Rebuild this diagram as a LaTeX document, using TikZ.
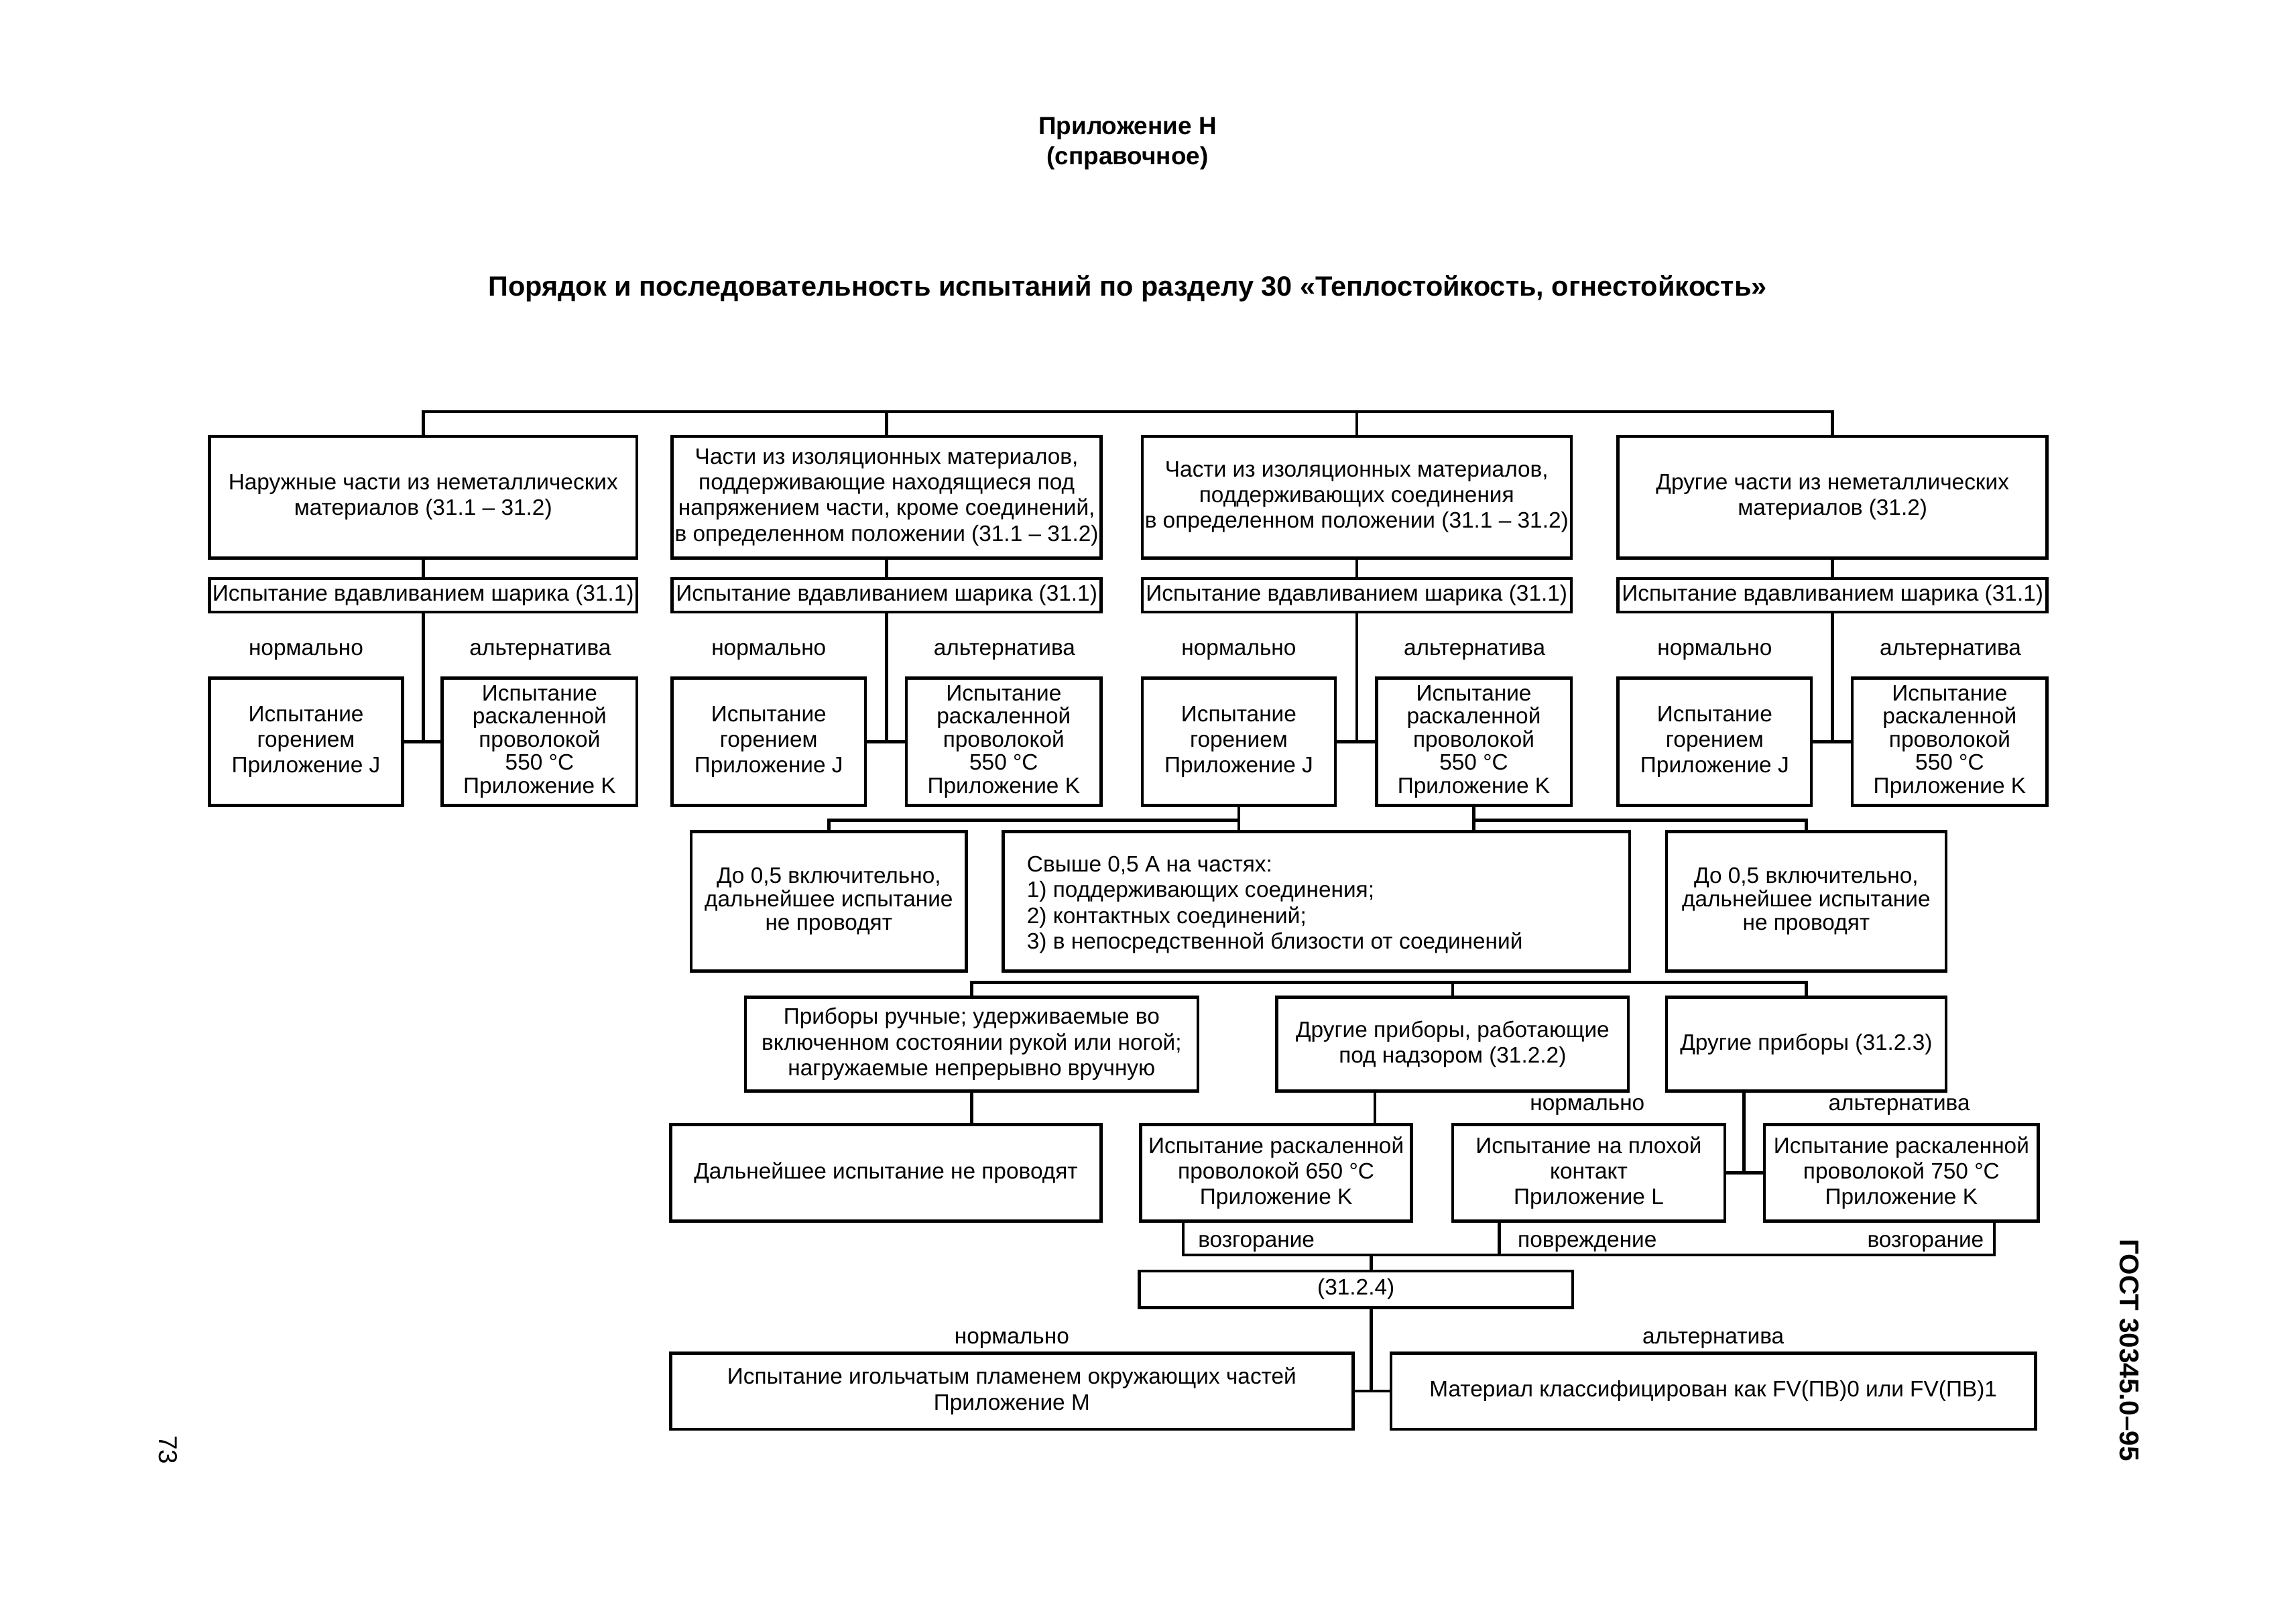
\documentclass[tikz,border=0pt]{standalone}
\usepackage{fontspec}
\setmainfont{Liberation Sans}
\newlength\upx
\setlength\upx{0.2184mm}
\tikzset{
  box/.style={draw, line width=1.3pt, align=center, inner sep=0pt, font=\fontsize{9.5}{10.9}\selectfont},
  tight/.style={font=\fontsize{9.5}{9.8}\selectfont},
  mid/.style={font=\fontsize{9.5}{10}\selectfont},
  lbl/.style={inner sep=0pt, font=\fontsize{9.5}{10.9}\selectfont},
  conn/.style={line width=1.3pt},
  hdr/.style={inner sep=0pt, font=\fontsize{10.5}{13}\selectfont\bfseries, align=center}
}
\newcommand\mybox[7][]{\node[box,#1, minimum width={(#5-#3)*\upx}, minimum height={(#6-#4)*\upx}] (#2) at ({(#3+#5)/2},{(#4+#6)/2}) {#7};}
\begin{document}
\begin{tikzpicture}[x=\upx, y=-\upx]
\useasboundingbox (0,0) rectangle (1568,1108);
% headers
\node[hdr] (h1) at (770,98) {Приложение Н\\(справочное)};
\node[hdr, font=\fontsize{11.8}{14}\selectfont\bfseries] (h2) at (770,197) {Порядок и последовательность испытаний по разделу 30 «Теплостойкость, огнестойкость»};
\node[hdr, font=\fontsize{11.5}{13}\selectfont\bfseries, rotate=-90] (gost) at (1454,922) {ГОСТ 30345.0–95};
\node[lbl, font=\fontsize{11}{13}\selectfont, rotate=-90] (pg) at (115,990) {73};
% row 1
\mybox{B1}{143}{298}{435}{381}{Наружные части из неметаллических\\материалов (31.1 – 31.2)}
\mybox{B2}{459}{298}{752}{381}{Части из изоляционных материалов,\\поддерживающие находящиеся под\\напряжением части, кроме соединений,\\в определенном положении (31.1 – 31.2)}
\mybox{B3}{780}{298}{1073}{381}{Части из изоляционных материалов,\\поддерживающих соединения\\в определенном положении (31.1 – 31.2)}
\mybox{B4}{1105}{298}{1398}{381}{Другие части из неметаллических\\материалов (31.2)}
% row 2
\mybox{T1}{143}{395}{435}{418}{Испытание вдавливанием шарика (31.1)}
\mybox{T2}{459}{395}{752}{418}{Испытание вдавливанием шарика (31.1)}
\mybox{T3}{780}{395}{1073}{418}{Испытание вдавливанием шарика (31.1)}
\mybox{T4}{1105}{395}{1398}{418}{Испытание вдавливанием шарика (31.1)}
% row 3
\mybox{J1}{143}{463}{275}{550}{Испытание\\горением\\Приложение J}
\mybox[tight]{K1}{302}{463}{435}{550}{Испытание\\раскаленной\\проволокой\\550 °C\\Приложение K}
\mybox{J2}{459}{463}{591}{550}{Испытание\\горением\\Приложение J}
\mybox[tight]{K2}{619}{463}{752}{550}{Испытание\\раскаленной\\проволокой\\550 °C\\Приложение K}
\mybox{J3}{780}{463}{912}{550}{Испытание\\горением\\Приложение J}
\mybox[tight]{K3}{940}{463}{1073}{550}{Испытание\\раскаленной\\проволокой\\550 °C\\Приложение K}
\mybox{J4}{1105}{463}{1237}{550}{Испытание\\горением\\Приложение J}
\mybox[tight]{K4}{1265}{463}{1398}{550}{Испытание\\раскаленной\\проволокой\\550 °C\\Приложение K}
% labels row 3
\node[lbl] (n1) at (209,445) {нормально};
\node[lbl] (a1) at (369,445) {альтернатива};
\node[lbl] (n2) at (525,445) {нормально};
\node[lbl] (a2) at (686,445) {альтернатива};
\node[lbl] (n3) at (846,445) {нормально};
\node[lbl] (a3) at (1007,445) {альтернатива};
\node[lbl] (n4) at (1171,445) {нормально};
\node[lbl] (a4) at (1332,445) {альтернатива};
% row 4
\mybox[mid]{D1}{472}{568}{660}{663}{До 0,5 включительно,\\дальнейшее испытание\\не проводят}
\mybox{S}{685}{568}{1113}{663}{}
\node[lbl, align=left, anchor=west] (St) at (701,618) {Свыше 0,5 А на частях:\\1) поддерживающих соединения;\\2) контактных соединений;\\3) в непосредственной близости от соединений};
\mybox[mid]{D2}{1138}{568}{1329}{663}{До 0,5 включительно,\\дальнейшее испытание\\не проводят}
% row 5
\mybox{P1}{509}{681}{818}{745}{Приборы ручные; удерживаемые во\\включенном состоянии рукой или ногой;\\нагружаемые непрерывно вручную}
\mybox{P2}{872}{681}{1112}{745}{Другие приборы, работающие\\под надзором (31.2.2)}
\mybox{P3}{1138}{681}{1329}{745}{Другие приборы (31.2.3)}
% row 6
\mybox{N}{458}{768}{752}{834}{Дальнейшее испытание не проводят}
\mybox{W65}{779}{768}{964}{834}{Испытание раскаленной\\проволокой 650 °C\\Приложение K}
\mybox{L}{992}{768}{1178}{834}{Испытание на плохой\\контакт\\Приложение L}
\mybox{W75}{1205}{768}{1392}{834}{Испытание раскаленной\\проволокой 750 °C\\Приложение K}
\node[lbl] (n5) at (1084,756) {нормально};
\node[lbl] (a5) at (1297,756) {альтернатива};
\node[lbl] (f1) at (858,849) {возгорание};
\node[lbl] (f2) at (1084,849) {повреждение};
\node[lbl] (f3) at (1315,849) {возгорание};
% row 7
\mybox{R}{778}{868}{1074}{893}{(31.2.4)}
\node[lbl] (n6) at (691,915) {нормально};
\node[lbl] (a6) at (1170,915) {альтернатива};
\mybox{M}{458}{924}{924}{976}{Испытание игольчатым пламенем окружающих частей\\Приложение M}
\mybox{FV}{950}{924}{1390}{976}{Материал классифицирован как FV(ПВ)0 или FV(ПВ)1}
% connectors
\coordinate (bus1) at (0,281);
\draw[conn] (B1.north) |- (B4.north |- bus1) -- (B4.north);
\draw[conn] (B2.north) -- (B2.north |- bus1);
\draw[conn] (B3.north) -- (B3.north |- bus1);
\foreach \i in {1,2,3,4}{
  \draw[conn] (B\i.south) -- (T\i.north);
  \draw[conn] (T\i.south) -- (T\i.south |- J\i.east);
  \draw[conn] (J\i.east) -- (K\i.west);
}
\coordinate (bus2) at (0,560);
\draw[conn] (J3.south) -- (J3.south |- S.north);
\draw[conn] (K3.south) -- (K3.south |- S.north);
\draw[conn] (J3.south |- bus2) -| (D1.north);
\draw[conn] (K3.south |- bus2) -| (D2.north);
\coordinate (bus3) at (0,671);
\draw[conn] (P1.north) |- (P3.north |- bus3) -- (P3.north);
\draw[conn] (P2.north) -- (P2.north |- bus3);
\draw[conn] (P1.south) -- (P1.south |- N.north);
\coordinate (v2) at (939,0);
\draw[conn] (P2.south -| v2) -- (W65.north -| v2);
\coordinate (v3) at (1191,0);
\draw[conn] (P3.south -| v3) -- (v3 |- L.east);
\draw[conn] (L.east) -- (W75.west);
\coordinate (bus4) at (0,857);
\coordinate (va) at (808,0);
\coordinate (vb) at (1024,0);
\coordinate (vc) at (1362,0);
\coordinate (vd) at (936.5,0);
\draw[conn] (W65.south -| va) |- (vc |- bus4) -- (W75.south -| vc);
\draw[conn] (L.south -| vb) -- (vb |- bus4);
\draw[conn] (vd |- bus4) -- (R.north -| vd);
\draw[conn] (R.south -| vd) -- (vd |- M.east);
\draw[conn] (M.east) -- (FV.west);
\end{tikzpicture}
\end{document}
